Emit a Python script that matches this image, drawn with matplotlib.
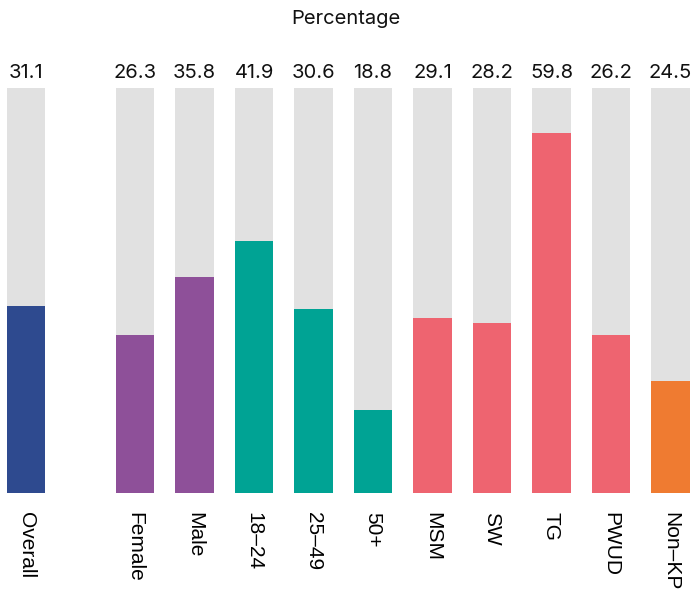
import matplotlib.pyplot as plt

# categories and values
groups = ['Overall', 'Female', 'Male', '18–24', '25–49', '50+', 'MSM', 'SW', 'TG', 'PWUD', 'Non–KP']
labels = [31.1, 26.3, 35.8, 41.9, 30.6, 18.8, 29.1, 28.2, 59.8, 26.2, 24.5]
# drawn bar heights (50+ and Non-KP are drawn shorter than their labels)
heights = [31.1, 26.3, 35.8, 41.9, 30.6, 13.8, 29.1, 28.2, 59.8, 26.2, 18.6]
colors = ['#2E4A8F', '#8E5099', '#8E5099', '#00A394', '#00A394', '#00A394',
          '#EE6470', '#EE6470', '#EE6470', '#EE6470', '#EF7B31']

# Overall sits a bit apart from the rest
xpos = [0] + [1.835 + i for i in range(len(groups) - 1)]
ymax = max(labels) * 1.125

fig = plt.figure(figsize=(6.92, 5.90), dpi=100)
ax = fig.add_axes([7 / 692, 1 - 493 / 590, 683 / 692, 405 / 590])

ax.bar(xpos, [ymax] * len(xpos), width=0.65, color='#E1E1E1', zorder=1)
ax.bar(xpos, heights, width=0.65, color=colors, zorder=2)

for x, v in zip(xpos, labels):
    ax.annotate(f'{v}', (x, ymax), xytext=(0, 10), textcoords='offset pixels',
                ha='center', va='baseline', fontsize=14.5, family='Inter', color='#111111')

ax.set_xlim(-0.32, xpos[-1] + 0.33)
ax.set_ylim(0, ymax)
ax.set_xticks(xpos)
ax.set_xticklabels(groups, rotation=270, fontsize=15, family='Liberation Sans')
ax.tick_params(axis='x', length=0, pad=14)
ax.set_yticks([])
for s in ax.spines.values():
    s.set_visible(False)

fig.text(0.5, 1 - 19 / 590, 'Percentage', ha='center', va='center',
         fontsize=14.5, family='Inter', color='#111111')

plt.savefig('out.png', dpi=100)
